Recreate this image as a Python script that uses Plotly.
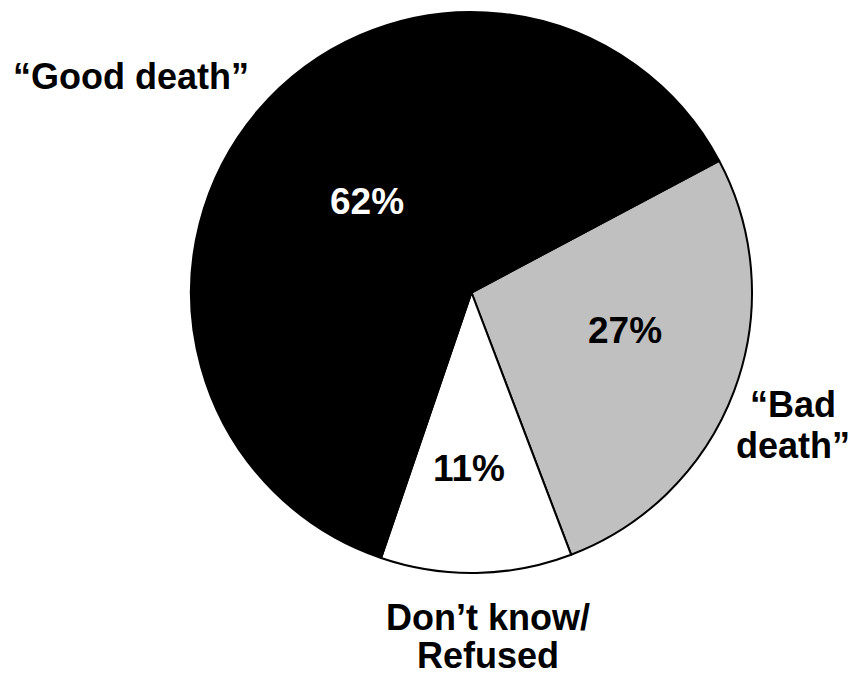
import plotly.graph_objects as go

categories = ["“Bad death”", "Don’t know/Refused", "“Good death”"]
values = [27, 11, 62]
colors = ["#c0c0c0", "#ffffff", "#000000"]
pct_colors = ["#000000", "#000000", "#ffffff"]
label_lines = [["“Bad", "death”"], ["Don’t know/", "Refused"], ["“Good death”"]]

# page body margin offsets the figure by 8px in the browser
OFF = 8
W, H = 857 - OFF, 676 - OFF


def px(x):
    return (x - OFF) / W


def py(y):
    return 1 - (y - OFF) / H


# pie geometry in screen pixels
left, right, top, bottom = 191, 752, 12, 573

fig = go.Figure(go.Pie(
    labels=categories,
    values=values,
    sort=False,
    direction="clockwise",
    rotation=62,
    marker=dict(colors=colors, line=dict(color="#000000", width=2)),
    textinfo="none",
    showlegend=False,
    hoverinfo="skip",
    domain=dict(x=[px(left), px(right)], y=[py(bottom), py(top)]),
))

FAM = "Liberation Sans, Arial, sans-serif"
GLYPH = 36
# label anchors (screen px): x, y (box middle), line pitch in px
label_pos = [(793, 425, 41), (488, 636, 38), (131, 76, 41)]
pct_pos = [(625, 330), (469, 468), (367, 201)]

annotations = []
for lines, (x, y, pitch) in zip(label_lines, label_pos):
    txt = "<br>".join(f"<span style='font-size:{GLYPH}px'><b>{t}</b></span>" for t in lines)
    annotations.append(dict(text=txt, x=px(x), y=py(y), xref="paper", yref="paper",
                            showarrow=False, align="center",
                            font=dict(family=FAM, size=pitch / 1.3, color="#000000"),
                            xanchor="center", yanchor="middle"))
for v, c, (x, y) in zip(values, pct_colors, pct_pos):
    annotations.append(dict(text=f"<b>{v}%</b>", x=px(x), y=py(y), xref="paper", yref="paper",
                            showarrow=False, xanchor="center", yanchor="middle",
                            font=dict(family=FAM, size=37, color=c)))

fig.update_layout(
    width=W, height=H,
    margin=dict(l=0, r=0, t=0, b=0),
    paper_bgcolor="white", plot_bgcolor="white",
    annotations=annotations,
)
fig.write_html("out.html")
